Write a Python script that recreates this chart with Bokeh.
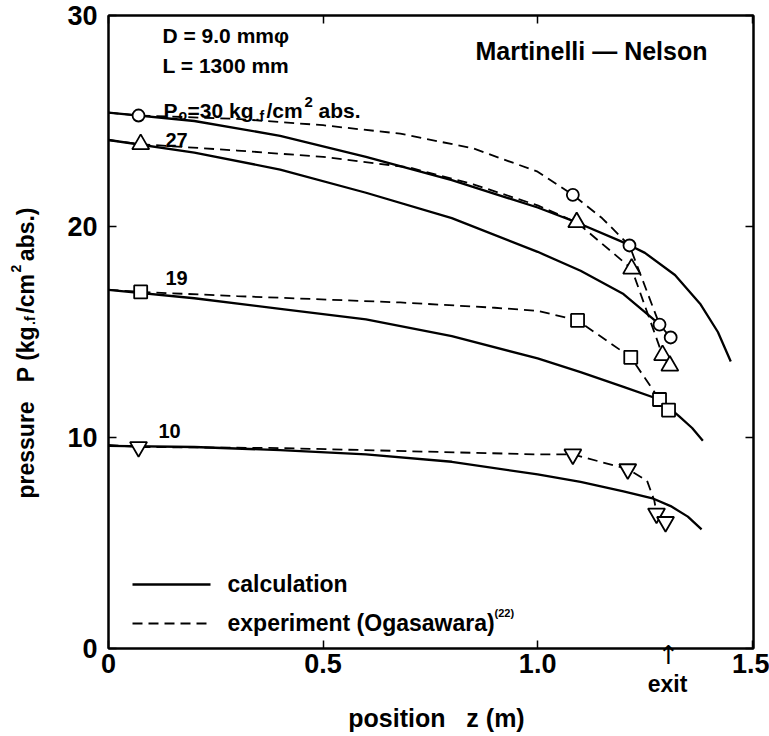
from math import pi
from bokeh.plotting import figure
from bokeh.models import (Range1d, LinearAxis, Label, FixedTicker, CustomJSTickFormatter)
from bokeh.embed import file_html
from bokeh.resources import INLINE

# ---------------- data ----------------
# calculation (solid lines), inlet pressure 30, 27, 19, 10
calc30_x = [0, 0.2, 0.4, 0.6, 0.8, 1.0, 1.09, 1.2, 1.25, 1.32, 1.38, 1.42, 1.45]
calc30_y = [25.4, 25.0, 24.3, 23.3, 22.2, 20.9, 20.2, 19.25, 18.75, 17.7, 16.3, 15.0, 13.6]
calc27_x = [0, 0.2, 0.4, 0.6, 0.8, 1.0, 1.1, 1.2, 1.282]
calc27_y = [24.1, 23.5, 22.7, 21.6, 20.4, 18.8, 17.9, 16.8, 15.4]
calc19_x = [0, 0.2, 0.4, 0.6, 0.8, 1.0, 1.1, 1.2, 1.284, 1.33, 1.36, 1.385]
calc19_y = [17.0, 16.6, 16.1, 15.6, 14.8, 13.75, 13.1, 12.4, 11.8, 11.0, 10.45, 9.85]
calc10_x = [0, 0.2, 0.4, 0.6, 0.8, 1.0, 1.1, 1.2, 1.27, 1.31, 1.35, 1.382]
calc10_y = [9.6, 9.55, 9.4, 9.2, 8.85, 8.25, 7.9, 7.45, 7.1, 6.75, 6.25, 5.65]

# experiment (dashed lines)
exp30_x = [0, 0.070, 0.3, 0.5, 0.68, 0.85, 1.0, 1.082, 1.15, 1.214, 1.284, 1.310]
exp30_y = [25.4, 25.26, 25.1, 24.8, 24.4, 23.7, 22.6, 21.5, 20.4, 19.1, 15.35, 14.74]
exp27_x = [0, 0.075, 0.3, 0.5, 0.7, 0.85, 1.0, 1.091, 1.219, 1.291, 1.308]
exp27_y = [24.1, 23.9, 23.6, 23.3, 22.8, 22.0, 21.0, 20.2, 18.0, 13.9, 13.4]
exp19_x = [0, 0.075, 0.3, 0.68, 0.9, 1.0, 1.093, 1.217, 1.284, 1.305]
exp19_y = [17.0, 16.9, 16.7, 16.4, 16.15, 16.0, 15.55, 13.8, 11.8, 11.3]
exp10_x = [0, 0.070, 0.4, 0.7, 1.0, 1.082, 1.210, 1.255, 1.272, 1.277, 1.298]
exp10_y = [9.65, 9.55, 9.5, 9.35, 9.2, 9.2, 8.5, 7.95, 7.0, 6.4, 6.0]

# measured points (markers)
pt30_x = [0.070, 1.082, 1.214, 1.284, 1.310]
pt30_y = [25.26, 21.5, 19.1, 15.35, 14.74]
pt27_x = [0.075, 1.091, 1.219, 1.291, 1.308]
pt27_y = [23.9, 20.2, 18.0, 13.9, 13.4]
pt19_x = [0.075, 1.093, 1.217, 1.284, 1.305]
pt19_y = [16.9, 15.55, 13.8, 11.8, 11.3]
pt10_x = [0.070, 1.082, 1.210, 1.277, 1.298]
pt10_y = [9.55, 9.2, 8.5, 6.4, 6.0]

x_ticks = [0, 0.5, 1.0, 1.5]
y_ticks = [0, 10, 20, 30]

# ---------------- figure ----------------
FONT = "Liberation Sans"
NB = "\u00a0"
W, H = 769, 736
FL, FR, FT, FB = 108, 753, 15, 648
XMAX, YMAX = 1.503, 30

p = figure(width=W, height=H, x_range=Range1d(0, XMAX), y_range=Range1d(0, YMAX),
           output_backend="svg", toolbar_location=None,
           min_border_left=FL, min_border_right=W - FR,
           min_border_top=FT, min_border_bottom=H - FB)
p.grid.visible = False
p.outline_line_color = "black"
p.outline_line_width = 2
p.background_fill_color = "white"
p.border_fill_color = "white"

def style_axis(ax, ticks, show_labels, standoff):
    ax.ticker = FixedTicker(ticks=ticks)
    ax.major_tick_in = 8
    ax.major_tick_out = 0
    ax.major_tick_line_width = 1.5
    ax.minor_tick_line_color = None
    ax.axis_line_width = 2
    ax.major_label_standoff = standoff
    ax.major_label_text_font = FONT
    ax.major_label_text_font_style = "bold"
    ax.major_label_text_font_size = "27px"
    ax.major_label_text_color = "black"
    if show_labels:
        ax.formatter = CustomJSTickFormatter(
            code="return tick == 0 ? '0' : (Math.abs(tick) < 2 ? tick.toFixed(1) : tick.toFixed(0));")
    else:
        ax.formatter = CustomJSTickFormatter(code="return '';")
        ax.major_label_standoff = 0

style_axis(p.xaxis[0], x_ticks, True, 5)
style_axis(p.yaxis[0], y_ticks, True, 11)
top = LinearAxis()
right = LinearAxis()
style_axis(top, x_ticks, False, 0)
style_axis(right, y_ticks, False, 0)
p.add_layout(top, "above")
p.add_layout(right, "right")

# ---------------- curves ----------------
for cx, cy in [(calc30_x, calc30_y), (calc27_x, calc27_y), (calc19_x, calc19_y), (calc10_x, calc10_y)]:
    p.line(cx, cy, line_color="black", line_width=2.3)
for ex, ey in [(exp30_x, exp30_y), (exp27_x, exp27_y), (exp19_x, exp19_y), (exp10_x, exp10_y)]:
    p.line(ex, ey, line_color="black", line_width=1.8, line_dash="10 6")

mk = dict(fill_color="white", line_color="black", line_width=1.8)
p.scatter(pt30_x, pt30_y, marker="circle", size=12, **mk)
p.scatter(pt27_x, pt27_y, marker="triangle", size=17, **mk)
p.scatter(pt19_x, pt19_y, marker="square", size=13, **mk)
p.scatter(pt10_x, pt10_y, marker="inverted_triangle", size=17, **mk)

# ---------------- annotations (placed in pixel terms) ----------------
def px2x(px):
    return (px - FL) / (FR - FL) * XMAX

def py2y(py):
    return (FB - py) / (FB - FT) * YMAX

def txt(s, px, py, size, align="left", baseline="middle", angle=0, place=None,
        font=FONT, style="bold"):
    lab = Label(x=px2x(px), y=py2y(py), text=s, text_font=font,
                text_font_size=f"{size}px", text_font_style=style,
                text_align=align, text_baseline=baseline, angle=angle,
                text_color="black")
    if place is None:
        p.add_layout(lab)
    else:
        p.add_layout(lab, place)

txt("D = 9.0 mmφ", 162, 35, 21)
txt("L = 1300 mm", 162, 65, 21)
txt("P", 163, 110, 21, baseline="alphabetic")
txt("o", 178, 114, 14, baseline="alphabetic")
txt("=30 kg", 187, 110, 21, baseline="alphabetic")
txt(".f", 255, 115, 14, baseline="alphabetic")
txt("/cm", 266, 110, 21, baseline="alphabetic")
txt("2", 304, 101, 15, baseline="alphabetic")
txt("abs.", 318, 110, 21, baseline="alphabetic")
txt("Martinelli — Nelson", 475, 50, 25)

txt("27", 176, 139, 20, align="center")
txt("19", 176, 277, 20, align="center")
txt("10", 169, 430, 20, align="center")

# legend
p.line([px2x(132), px2x(210)], [py2y(584), py2y(584)], line_color="black", line_width=2.3)
p.line([px2x(132), px2x(210)], [py2y(623), py2y(623)], line_color="black", line_width=1.8,
       line_dash="10 6")
txt("calculation", 227, 583, 23)
txt("experiment (Ogasawara)", 227, 622, 23)
txt("(22)", 494, 612, 11)

# texts outside the frame live in side panels so that they are not clipped
txt("exit", 667, 683, 23, align="center", place="below")
txt("position" + NB * 3 + "z (m)", 436, 717, 25, align="center", place="below")
txt("↑", 668, 654, 26, align="center", place="left", font="DejaVu Sans", style="normal")

YB = 25
Y0 = 498
txt("pressure" + NB * 3 + "P (kg" + NB * 2 + "/cm" + NB * 2 + "abs.)", YB, Y0, 23,
    baseline="alphabetic", angle=pi / 2, place="left")
txt(".f", YB + 4, Y0 - 173.5, 14, baseline="alphabetic", angle=pi / 2, place="left")
txt("2", YB - 10, Y0 - 226, 14, baseline="alphabetic", angle=pi / 2, place="above")

open("out.html", "w").write(file_html(p, INLINE))
